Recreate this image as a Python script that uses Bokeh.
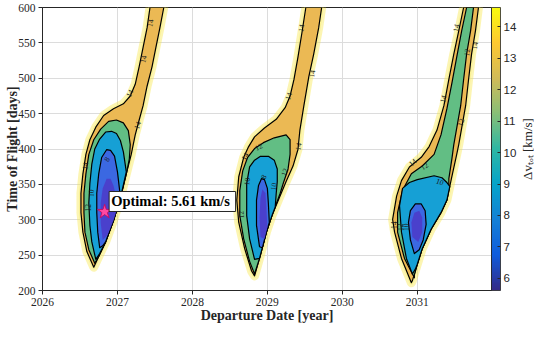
import numpy as np
from bokeh.plotting import figure
from bokeh.models import ColumnDataSource, Label, ColorBar, LinearColorMapper, FixedTicker
from bokeh.core.properties import value
from bokeh.embed import file_html
from bokeh.resources import INLINE

# ---------------- data ----------------
X_TICKS = [2026, 2027, 2028, 2029, 2030, 2031]
Y_TICKS = [200, 250, 300, 350, 400, 450, 500, 550, 600]
CBAR_TICKS = [6, 7, 8, 9, 10, 11, 12, 13, 14]
DV_MIN, DV_MAX = 5.61, 14.62

OPT_DEPART = 2026.829   # year
OPT_TOF = 311.3         # days
OPT_DV = 5.61           # km/s

# contour outlines (departure year, time of flight days) for each launch window
W1_C14 = [(2026.684, 233.0), (2026.592, 255.0), (2026.539, 282.5), (2026.513, 310.0), (2026.513, 337.5),
          (2026.539, 364.9), (2026.579, 392.4), (2026.632, 413.1), (2026.711, 430.9), (2026.816, 447.4),
          (2026.947, 457.0), (2027.079, 463.9), (2027.171, 474.9), (2027.237, 491.4), (2027.289, 516.2),
          (2027.342, 543.7), (2027.395, 571.1), (2027.434, 600.0), (2027.618, 600.0), (2027.566, 571.1),
          (2027.513, 543.7), (2027.461, 516.2), (2027.395, 488.7), (2027.342, 461.2), (2027.289, 440.6),
          (2027.237, 419.9), (2027.184, 392.4), (2027.118, 364.9), (2027.039, 330.6), (2026.947, 299.0),
          (2026.842, 268.7), (2026.750, 248.1)]
W1_C12 = [(2026.697, 238.5), (2026.618, 257.7), (2026.566, 282.5), (2026.553, 310.0), (2026.553, 337.5),
          (2026.579, 364.9), (2026.618, 392.4), (2026.684, 413.1), (2026.776, 428.0), (2026.882, 439.0),
          (2026.987, 441.0), (2027.079, 437.0), (2027.145, 426.0), (2027.171, 406.2), (2027.158, 385.6),
          (2027.118, 364.9), (2027.039, 330.6), (2026.947, 299.0), (2026.842, 268.7), (2026.750, 248.1)]
W1_C10 = [(2026.711, 244.0), (2026.658, 268.7), (2026.632, 292.1), (2026.618, 323.7), (2026.632, 351.2),
          (2026.658, 378.7), (2026.697, 400.0), (2026.763, 414.0), (2026.842, 424.0), (2026.921, 425.0),
          (2026.987, 422.0), (2027.039, 412.0), (2027.079, 396.0), (2027.118, 367.7), (2027.039, 330.6),
          (2026.947, 299.0), (2026.842, 268.7), (2026.763, 252.2)]
W1_C8 = [(2026.763, 260.5), (2026.737, 282.5), (2026.724, 310.0), (2026.724, 337.5), (2026.750, 364.9),
         (2026.789, 388.0), (2026.855, 399.0), (2026.908, 398.0), (2026.961, 390.0), (2027.000, 367.7),
         (2027.026, 344.3), (2027.039, 330.6), (2026.947, 299.0), (2026.842, 268.7), (2026.803, 263.2)]
W1_CORE = [(2026.803, 271.5), (2026.776, 296.2), (2026.776, 323.7), (2026.803, 344.3), (2026.855, 358.1),
           (2026.908, 358.1), (2026.947, 348.5), (2026.987, 330.6), (2027.000, 316.8), (2026.947, 299.0),
           (2026.868, 278.3)]

W2_C14 = [(2028.829, 220.6), (2028.789, 227.5), (2028.697, 259.1), (2028.618, 296.2), (2028.592, 327.8),
          (2028.618, 360.8), (2028.684, 388.3), (2028.750, 403.4), (2028.829, 417.2), (2028.961, 429.6),
          (2029.118, 441.9), (2029.237, 458.4), (2029.303, 474.9), (2029.355, 498.3), (2029.408, 529.9),
          (2029.461, 564.3), (2029.513, 600.0), (2029.724, 600.0), (2029.684, 571.1), (2029.618, 534.0),
          (2029.553, 502.4), (2029.487, 461.2), (2029.434, 426.8), (2029.408, 399.3), (2029.342, 375.9),
          (2029.250, 353.9), (2029.158, 330.6), (2029.066, 307.2), (2028.987, 282.5), (2028.895, 245.3)]
W2_C12 = [(2028.829, 223.4), (2028.763, 241.2), (2028.684, 272.9), (2028.632, 305.8), (2028.632, 341.6),
          (2028.671, 369.1), (2028.737, 388.3), (2028.829, 400.7), (2028.947, 409.0), (2029.092, 415.8),
          (2029.250, 419.9), (2029.303, 413.1), (2029.303, 392.4), (2029.276, 371.8), (2029.211, 351.2),
          (2029.171, 337.5), (2029.066, 307.2), (2028.987, 282.5), (2028.895, 245.3)]
W2_C10 = [(2028.829, 244.0), (2028.763, 272.9), (2028.724, 305.8), (2028.724, 351.2), (2028.763, 374.6),
          (2028.829, 384.2), (2028.908, 389.7), (2029.013, 389.7), (2029.092, 384.2), (2029.132, 371.8),
          (2029.132, 353.9), (2029.118, 337.5), (2029.105, 318.2), (2029.066, 307.2), (2028.987, 282.5),
          (2028.895, 245.3)]
W2_C8 = [(2028.895, 261.9), (2028.855, 292.1), (2028.855, 327.8), (2028.882, 348.5), (2028.921, 358.1),
         (2028.961, 356.7), (2029.000, 344.3), (2029.013, 323.7), (2029.026, 296.2), (2028.987, 282.5),
         (2028.934, 260.5)]
W2_CORE = [(2028.908, 275.6), (2028.895, 303.1), (2028.908, 330.6), (2028.934, 343.0), (2028.974, 337.5),
           (2028.987, 316.8), (2029.000, 289.3), (2028.961, 272.9)]

W3_C14 = [(2030.921, 211.0), (2030.789, 245.3), (2030.697, 282.5), (2030.671, 300.4), (2030.724, 333.4),
          (2030.789, 355.3), (2030.895, 374.6), (2031.053, 388.3), (2031.158, 403.4), (2031.263, 426.8),
          (2031.355, 461.2), (2031.421, 498.3), (2031.487, 534.0), (2031.553, 567.0), (2031.618, 600.0),
          (2031.816, 600.0), (2031.776, 567.0), (2031.724, 534.0), (2031.684, 498.3), (2031.645, 461.2),
          (2031.592, 429.6), (2031.553, 406.2), (2031.526, 392.4), (2031.461, 360.8), (2031.395, 327.8),
          (2031.316, 310.0), (2031.184, 286.6), (2031.066, 259.1), (2031.000, 237.1), (2030.934, 213.7)]
W3_C12 = [(2030.961, 217.9), (2030.829, 245.3), (2030.737, 282.5), (2030.737, 310.0), (2030.803, 341.6),
          (2030.921, 364.9), (2031.066, 376.0), (2031.224, 392.4), (2031.316, 419.9), (2031.395, 457.0),
          (2031.461, 492.8), (2031.526, 529.9), (2031.592, 567.0), (2031.658, 600.0), (2031.750, 600.0),
          (2031.711, 567.0), (2031.658, 534.0), (2031.618, 498.3), (2031.579, 461.2), (2031.526, 429.6),
          (2031.487, 406.2), (2031.461, 385.6), (2031.421, 358.1), (2031.421, 344.3), (2031.395, 327.8),
          (2031.316, 310.0), (2031.184, 286.6), (2031.066, 259.1), (2031.000, 237.1), (2030.961, 222.0)]
W3_C10 = [(2030.934, 223.4), (2030.855, 245.3), (2030.789, 282.5), (2030.763, 319.6), (2030.803, 344.3),
          (2030.895, 352.6), (2031.000, 356.7), (2031.224, 362.2), (2031.329, 359.4), (2031.395, 352.6),
          (2031.434, 347.1), (2031.395, 327.8), (2031.316, 310.0), (2031.184, 286.6), (2031.066, 259.1),
          (2031.000, 237.1), (2030.974, 230.2)]
W3_C8 = [(2030.908, 271.5), (2030.882, 296.2), (2030.908, 312.8), (2030.974, 322.3), (2031.053, 322.3),
         (2031.105, 312.8), (2031.118, 293.5), (2031.079, 271.5), (2031.026, 257.7), (2030.961, 252.2)]
W3_CORE = [(2030.934, 275.6), (2030.921, 296.2), (2030.961, 310.0), (2031.026, 312.8), (2031.066, 303.1),
           (2031.066, 282.5), (2031.013, 268.4)]

# inline contour labels: position (year, days), text, orientation along the line (deg)
CLABEL_X = [2027.434, 2027.342, 2027.158, 2027.263, 2026.566, 2026.605, 2026.645, 2026.855,
            2029.447, 2029.592, 2029.276, 2029.408, 2028.882, 2028.697, 2029.224, 2028.724,
            2028.947, 2028.645, 2029.079,
            2031.513, 2031.658, 2031.763, 2031.342, 2031.579, 2030.934, 2031.092, 2031.303,
            2030.684, 2030.763, 2030.855]
CLABEL_Y = [578.0, 527.1, 479.0, 433.7, 376.0, 316.8, 337.5, 385.6,
            571.1, 506.5, 474.9, 403.4, 403.4, 389.7, 367.7, 354.0,
            360.8, 307.2, 347.1,
            571.1, 536.8, 546.4, 470.8, 437.8, 381.5, 376.0, 354.0,
            292.1, 289.3, 289.3]
CLABEL_TEXT = ["14", "14", "14", "14", "14", "12", "10", "8",
               "14", "14", "14", "14", "12", "14", "12", "10",
               "8", "12", "10",
               "14", "12", "14", "14", "12", "14", "12", "10",
               "14", "12", "10"]
CLABEL_ANGLE = [80, 78, 65, 72, 82, 90, 88, 60,
                80, 80, 72, 80, 25, 60, 70, 85,
                60, 95, 80,
                78, 80, 80, 75, 75, 40, 35, -20,
                90, 90, 90]

X_TITLE = "Departure Date [year]"
Y_TITLE = "Time of Flight [days]"
CB_TITLE = "Δvₜₒₜ [km/s]"

# ---------------- style ----------------
PARULA_ANCHORS = ["#352a87", "#0f5cdd", "#1481d6", "#06a4ca", "#2eb7a4",
                  "#87bf77", "#d1bb59", "#fec832", "#f9fb0e"]


def build_palette(anchors, n=256):
    rgb = np.array([[int(h[i:i + 2], 16) for i in (1, 3, 5)] for h in anchors], float)
    pos = np.linspace(0, 1, len(anchors))
    t = np.linspace(0, 1, n)
    out = []
    for v in t:
        c = [np.interp(v, pos, rgb[:, k]) for k in range(3)]
        out.append("#%02x%02x%02x" % tuple(int(round(x)) for x in c))
    return out


PARULA = build_palette(PARULA_ANCHORS)

SERIF = "Liberation Serif"
SANS = "Liberation Sans"
AX = "#262626"

p = figure(width=534, height=323, x_range=(2026, 2031.99), y_range=(200, 600),
           output_backend="svg", toolbar_location=None,
           min_border_left=42, min_border_right=20, min_border_top=7, min_border_bottom=20)

p.background_fill_color = "white"
p.outline_line_color = AX
p.outline_line_width = 1

p.xaxis.ticker = FixedTicker(ticks=X_TICKS)
p.yaxis.ticker = FixedTicker(ticks=Y_TICKS)
for ax in (p.xaxis, p.yaxis):
    ax.axis_line_color = AX
    ax.major_tick_line_color = AX
    ax.major_tick_in = 0
    ax.major_tick_out = 4
    ax.minor_tick_line_color = None
    ax.major_label_text_font = SERIF
    ax.major_label_text_font_size = "11.5px"
    ax.major_label_text_color = AX
p.xaxis.major_label_standoff = 3
p.yaxis.major_label_standoff = 3

p.grid.grid_line_color = "#dcdcdc"
p.grid.grid_line_width = 1

windows = [
    (W1_C14, W1_C12, W1_C10, W1_C8, W1_CORE),
    (W2_C14, W2_C12, W2_C10, W2_C8, W2_CORE),
    (W3_C14, W3_C12, W3_C10, W3_C8, W3_CORE),
]

LEVEL_FILLS = ["#ebb954", "#62be84", "#16a0d5", "#3b68e2", "#4a40cc"]
LEVEL_LINES = [True, True, True, True, False]


def src_for(idx):
    xs = [[pt[0] for pt in w[idx]] for w in windows]
    ys = [[pt[1] for pt in w[idx]] for w in windows]
    return ColumnDataSource(dict(xs=xs, ys=ys))


# soft yellow halo beyond the 14 km/s contour
halo = src_for(0)
p.patches("xs", "ys", source=halo, fill_alpha=0, line_color="#f7e640", line_alpha=0.4,
          line_width=9, line_join="round")
p.patches("xs", "ys", source=halo, fill_alpha=0, line_color="#f9ee70", line_alpha=0.45,
          line_width=4, line_join="round")

for i, (fc, has_line) in enumerate(zip(LEVEL_FILLS, LEVEL_LINES)):
    s = src_for(i)
    if has_line:
        p.patches("xs", "ys", source=s, fill_color=fc, fill_alpha=1,
                  line_color="black", line_width=1.2, line_join="round")
    else:
        p.patches("xs", "ys", source=s, fill_color=fc, fill_alpha=1, line_color=None)

# contour labels
p.text(x=CLABEL_X, y=CLABEL_Y, text=CLABEL_TEXT, angle=CLABEL_ANGLE, angle_units="deg",
       text_font=value(SERIF), text_font_size="7.5px", text_color="#1a1a1a",
       text_align="center", text_baseline="middle")

# optimum marker
p.scatter([OPT_DEPART], [OPT_TOF], marker="star", size=15, fill_color="#ff4aa2",
          line_color="#c0106a", line_width=1)

p.add_layout(Label(x=OPT_DEPART + 0.06, y=OPT_TOF + 14.5, text=f"Optimal:  {OPT_DV:.2f} km/s",
                   text_font=SERIF, text_font_style="bold", text_font_size="14.5px",
                   text_color="black", text_baseline="middle", text_align="left",
                   background_fill_color="white", background_fill_alpha=1,
                   border_line_color=AX, border_line_width=1, padding=2))

# colour bar
mapper = LinearColorMapper(palette=PARULA, low=DV_MIN, high=DV_MAX)
cb = ColorBar(color_mapper=mapper, ticker=FixedTicker(ticks=CBAR_TICKS), width=9,
              padding=0, margin=2, label_standoff=3,
              major_label_text_font=SANS, major_label_text_font_size="11.5px",
              major_label_text_color=AX,
              major_tick_in=3, major_tick_out=0, major_tick_line_color=AX,
              minor_tick_line_color=None,
              bar_line_color=AX, bar_line_width=0.8,
              border_line_color=None, background_fill_alpha=0)
p.add_layout(cb, "right")

YMID = 0.5 * (Y_TICKS[0] + Y_TICKS[-1])
XMID = 0.5 * (2026 + 2031.99)

# axis titles in side panels (panel-relative screen offsets, data-centred)
p.add_layout(Label(x=XMID, y=8, x_units="data", y_units="screen", text=X_TITLE,
                   text_font=SERIF, text_font_style="bold", text_font_size="14px",
                   text_color=AX, text_align="center", text_baseline="alphabetic"), "below")
p.add_layout(Label(x=12, y=YMID, x_units="screen", y_units="data", text=Y_TITLE,
                   text_font=SERIF, text_font_style="bold", text_font_size="14px",
                   text_color=AX, angle=np.pi / 2, text_align="center",
                   text_baseline="alphabetic"), "left")
p.add_layout(Label(x=8, y=YMID, x_units="screen", y_units="data", text=CB_TITLE,
                   text_font=SERIF, text_font_size="13px",
                   text_color=AX, angle=np.pi / 2, text_align="center",
                   text_baseline="alphabetic"), "right")

open("out.html", "w").write(file_html(p, INLINE))
